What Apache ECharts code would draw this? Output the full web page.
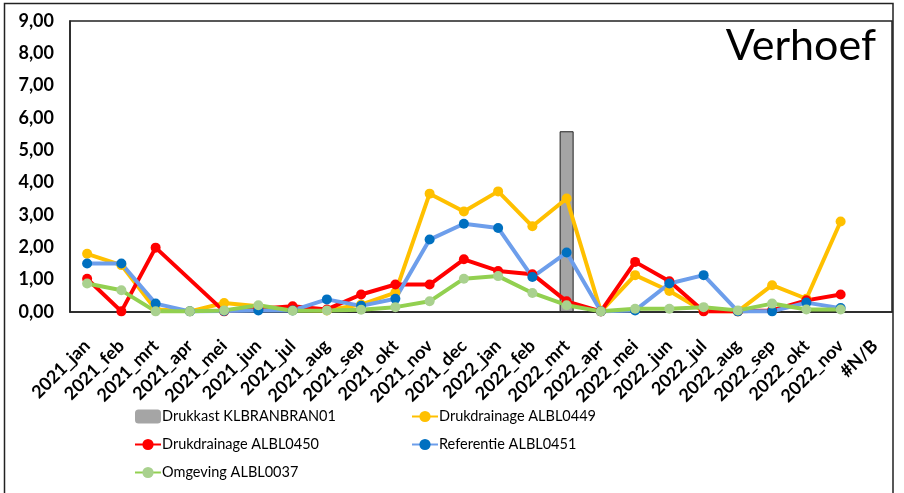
<!DOCTYPE html>
<html><head><meta charset="utf-8">
<script src="https://cdn.jsdelivr.net/npm/echarts@6/dist/echarts.min.js"></script>
<style>html,body{margin:0;padding:0;background:#fff}#c{width:904px;height:493px}</style>
</head><body><div id="c"></div>
<script>
const categories = ['2021_jan','2021_feb','2021_mrt','2021_apr','2021_mei','2021_jun','2021_jul','2021_aug','2021_sep','2021_okt','2021_nov','2021_dec','2022_jan','2022_feb','2022_mrt','2022_apr','2022_mei','2022_jun','2022_jul','2022_aug','2022_sep','2022_okt','2022_nov','#N/B'];
const yTicks = [0,1,2,3,4,5,6,7,8,9];
const drukkast = [null,null,null,null,null,null,null,null,null,null,null,null,null,null,5.59,null,null,null,null,null,null,null,null,null];
const albl0449 = [1.80,1.45,0.08,0.02,0.28,0.18,0.06,0.05,0.23,0.60,3.66,3.11,3.73,2.65,3.51,0.02,1.14,0.65,0.03,0.02,0.83,0.41,2.80,null];
const albl0450 = [1.03,0.02,1.99,null,0.02,0.10,0.18,0.08,0.54,0.85,0.85,1.63,1.27,1.17,0.33,0.02,1.55,0.95,0.02,0.02,0.05,0.36,0.54,null];
const albl0451 = [1.50,1.50,0.26,0.02,0.03,0.05,0.05,0.39,0.19,0.41,2.24,2.73,2.60,1.08,1.84,0.02,0.05,0.88,1.14,0.02,0.02,0.29,0.12,null];
const albl0037 = [0.88,0.67,0.02,0.02,0.05,0.21,0.04,0.05,0.07,0.15,0.33,1.03,1.11,0.59,0.21,0.02,0.10,0.10,0.15,0.05,0.26,0.08,0.08,null];
const names = ['Drukkast KLBRANBRAN01','Drukdrainage ALBL0449','Drukdrainage ALBL0450','Referentie ALBL0451','Omgeving ALBL0037'];

const chart = echarts.init(document.getElementById('c'));
const FONT = 'Lato';
function lineSeries(name, data, lineColor, dotColor){
  return {name, type:'line', data, connectNulls:true, symbol:'circle', symbolSize:10,
    lineStyle:{color:lineColor,width:4}, itemStyle:{color:dotColor}, emphasis:{disabled:true}};
}
const legendText = {fontSize:14.5,fontFamily:'Lato',color:'#000',padding:[0,0,0,-4]};
chart.setOption({
  animation:false,
  textStyle:{fontFamily:FONT},
  graphic:[{type:'rect',shape:{x:4.5,y:3.5,width:888.5,height:520},style:{fill:null,stroke:'#222',lineWidth:1.5},z:-1},
           {type:'text',right:28,top:25,style:{text:'Verhoef',font:'43px Lato',fill:'#000'}}],
  grid:{left:70,right:12,top:21,bottom:181,show:true,borderColor:'#222',borderWidth:1.5,backgroundColor:'#fff'},
  legend:[
    {data:[{name:names[0],itemStyle:{borderWidth:0}},names[2],names[4]],orient:'vertical',left:129,top:404,itemGap:13,itemWidth:26,itemHeight:14,
      textStyle:legendText},
    {data:[names[1],names[3]],orient:'vertical',left:406,top:404,itemGap:13,itemWidth:26,itemHeight:14,
      textStyle:legendText}
  ],
  xAxis:{type:'category',data:categories,boundaryGap:true,
    axisLine:{lineStyle:{color:'#222',width:1.5}},axisTick:{show:false},
    axisLabel:{rotate:45,interval:0,fontWeight:'bold',fontSize:18,color:'#000',margin:31,fontFamily:FONT}},
  yAxis:{type:'value',min:yTicks[0],max:yTicks[yTicks.length-1],interval:1,
    splitLine:{show:false},axisLine:{show:true,lineStyle:{color:'#222',width:1.5}},axisTick:{show:false},
    axisLabel:{fontWeight:'bold',fontSize:18,color:'#000',margin:16,fontFamily:FONT,
      formatter:v=>v.toFixed(2).replace('.',',')}},
  series:[
    {name:names[0],type:'bar',data:drukkast,barWidth:14,itemStyle:{color:'#a5a5a5',borderColor:'#222',borderWidth:1},emphasis:{disabled:true}},
    lineSeries(names[1],albl0449,'#ffc000','#ffc000'),
    lineSeries(names[2],albl0450,'#ff0000','#ff0000'),
    lineSeries(names[3],albl0451,'#6d9eeb','#0070c0'),
    lineSeries(names[4],albl0037,'#92d050','#a9d18e')
  ]
});
</script></body></html>
